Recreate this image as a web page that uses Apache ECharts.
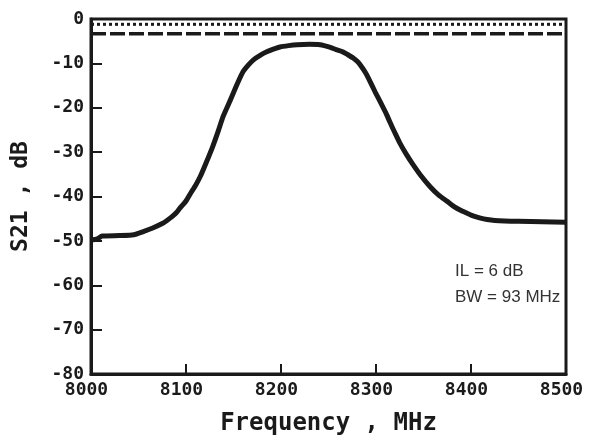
<!DOCTYPE html>
<html><head><meta charset="utf-8">
<script src="https://cdn.jsdelivr.net/npm/echarts@6/dist/echarts.min.js"></script>
<style>html,body{margin:0;padding:0;background:#fff}#c{width:614px;height:443px}</style>
</head><body><div id="c"></div>
<script>
const freq = [8000, 8006, 8012, 8030, 8045, 8055, 8065, 8075, 8080, 8085, 8090, 8094, 8100, 8105, 8110, 8115, 8121, 8128, 8134, 8139, 8146, 8154, 8160, 8166, 8171, 8178, 8185, 8192, 8199, 8208, 8217, 8230, 8241, 8252, 8258, 8265, 8270, 8276, 8281, 8285, 8289, 8292, 8299, 8306, 8310, 8315, 8320, 8325, 8332, 8339, 8348, 8357, 8366, 8375, 8383, 8392, 8400, 8409, 8417, 8425, 8450, 8475, 8500];
const s21 = [-49.8, -49.6, -48.9, -48.8, -48.6, -47.9, -47.1, -46.1, -45.4, -44.6, -43.6, -42.5, -41.0, -39.2, -37.5, -35.5, -32.5, -28.8, -25.2, -22.0, -18.6, -14.6, -11.9, -10.3, -9.2, -8.2, -7.4, -6.8, -6.3, -6.0, -5.8, -5.7, -5.8, -6.4, -6.9, -7.4, -8.0, -8.8, -9.7, -10.8, -12.1, -13.3, -16.4, -19.3, -21.0, -23.4, -25.7, -27.9, -30.5, -32.8, -35.5, -37.8, -39.7, -41.1, -42.4, -43.4, -44.2, -44.8, -45.2, -45.4, -45.6, -45.7, -45.8];
const refFreq = [8000, 8500];
const refDotted = [-1.2, -1.2];
const refDashed = [-3.3, -3.3];
const xTicks = [8000, 8100, 8200, 8300, 8400, 8500];
const yTicks = [0, -10, -20, -30, -40, -50, -60, -70, -80];
const notes = ['IL = 6 dB', 'BW = 93 MHz'];

const chart = echarts.init(document.getElementById('c'));
const mono = '"DejaVu Sans Mono", monospace';
chart.setOption({
  animation: false,
  grid: {left: 91, top: 19, width: 475, height: 355, show: true, borderColor: '#1a1a1a', borderWidth: 3},
  xAxis: {
    type: 'value', min: 8000, max: 8500, interval: 100,
    axisLine: {onZero: false, lineStyle: {color: '#1a1a1a', width: 3}},
    axisTick: {inside: true, length: 10, lineStyle: {color: '#1a1a1a', width: 2}},
    splitLine: {show: false},
    axisLabel: {fontFamily: mono, fontWeight: 'bold', fontSize: 18, color: '#1a1a1a', margin: 7, padding: [0, 9, 0, 0],
      formatter: v => String(v)},
    name: 'Frequency , MHz', nameLocation: 'middle', nameGap: 38,
    nameTextStyle: {fontFamily: mono, fontWeight: 'bold', fontSize: 24, color: '#1a1a1a'}
  },
  yAxis: {
    type: 'value', min: -80, max: 0, interval: 10,
    axisLine: {onZero: false, lineStyle: {color: '#1a1a1a', width: 3}},
    axisTick: {inside: true, length: 11, lineStyle: {color: '#1a1a1a', width: 2}},
    splitLine: {show: false},
    axisLabel: {fontFamily: mono, fontWeight: 'bold', fontSize: 18, color: '#1a1a1a', margin: 7, padding: [4, 0, 0, 0],
      formatter: v => String(v)},
    name: 'S21 , dB', nameLocation: 'middle', nameGap: 58, nameRotate: 90,
    nameTextStyle: {fontFamily: mono, fontWeight: 'bold', fontSize: 23, color: '#1a1a1a'}
  },
  series: [
    {type: 'line', data: refFreq.map((f, i) => [f, refDotted[i]]), symbol: 'none',
     lineStyle: {color: '#1a1a1a', width: 3, type: [3, 3]}},
    {type: 'line', data: refFreq.map((f, i) => [f, refDashed[i]]), symbol: 'none',
     lineStyle: {color: '#1a1a1a', width: 3.5, type: [15, 4]}},
    {type: 'line', data: freq.map((f, i) => [f, s21[i]]), symbol: 'none', smooth: 0.2,
     lineStyle: {color: '#1a1a1a', width: 5, join: 'round'}}
  ],
  graphic: notes.map((t, i) => ({
    type: 'text', left: 455, top: 263 + i * 26,
    style: {text: t, fontFamily: '"Liberation Sans", Arial, sans-serif', fontSize: 17, fill: '#333'}
  }))
});
</script></body></html>
